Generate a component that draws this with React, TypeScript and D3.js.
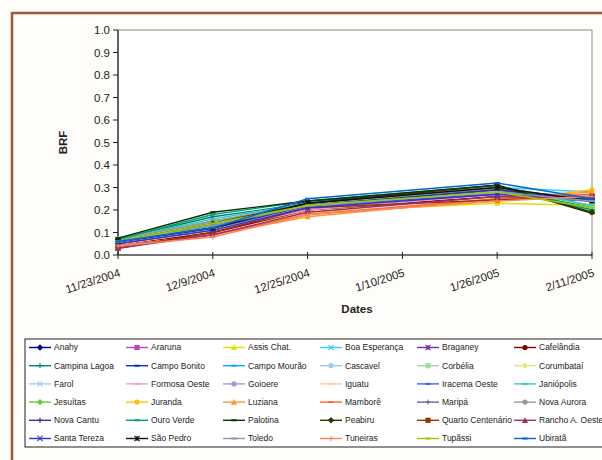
import React from "react";
import * as d3 from "d3";

// ---- data ----
const dates = ["2004-11-23", "2004-12-09", "2004-12-25", "2005-01-26", "2005-02-11"];
const tickLabels = ["11/23/2004", "12/9/2004", "12/25/2004", "1/10/2005", "1/26/2005", "2/11/2005"];
const yTicks = [0, 0.1, 0.2, 0.3, 0.4, 0.5, 0.6, 0.7, 0.8, 0.9, 1.0];

const seriesNames = [
  "Anahy", "Araruna", "Assis Chat.", "Boa Esperança", "Braganey", "Cafelândia",
  "Campina Lagoa", "Campo Bonito", "Campo Mourão", "Cascavel", "Corbélia", "Corumbataí",
  "Farol", "Formosa Oeste", "Goioere", "Iguatu", "Iracema Oeste", "Janiópolis",
  "Jesuítas", "Juranda", "Luziana", "Mamborê", "Maripá", "Nova Aurora",
  "Nova Cantu", "Ouro Verde", "Palotina", "Peabiru", "Quarto Centenário", "Rancho A. Oeste",
  "Santa Tereza", "São Pedro", "Toledo", "Tuneiras", "Tupãssi", "Ubiratã",
];

// BRF per date, one value per series (same order as seriesNames)
const brf_2004_11_23 = [
  0.06, 0.04, 0.05, 0.07, 0.05, 0.04,
  0.07, 0.06, 0.07, 0.06, 0.07, 0.06,
  0.06, 0.05, 0.05, 0.04, 0.06, 0.07,
  0.07, 0.04, 0.04, 0.04, 0.06, 0.07,
  0.06, 0.07, 0.075, 0.06, 0.03, 0.03,
  0.05, 0.06, 0.06, 0.04, 0.06, 0.06,
];
const brf_2004_12_09 = [
  0.12, 0.10, 0.11, 0.14, 0.12, 0.10,
  0.17, 0.12, 0.15, 0.13, 0.14, 0.12,
  0.13, 0.11, 0.12, 0.09, 0.12, 0.16,
  0.15, 0.09, 0.09, 0.09, 0.13, 0.15,
  0.12, 0.18, 0.19, 0.14, 0.10, 0.09,
  0.11, 0.12, 0.13, 0.08, 0.14, 0.12,
];
const brf_2004_12_25 = [
  0.22, 0.20, 0.19, 0.23, 0.21, 0.20,
  0.23, 0.24, 0.22, 0.22, 0.23, 0.21,
  0.22, 0.20, 0.21, 0.18, 0.22, 0.23,
  0.22, 0.18, 0.17, 0.18, 0.22, 0.23,
  0.22, 0.24, 0.24, 0.23, 0.21, 0.19,
  0.21, 0.23, 0.22, 0.18, 0.22, 0.25,
];
const brf_2005_01_26 = [
  0.29, 0.28, 0.23, 0.30, 0.27, 0.26,
  0.30, 0.29, 0.28, 0.28, 0.29, 0.27,
  0.28, 0.27, 0.28, 0.25, 0.27, 0.30,
  0.29, 0.24, 0.25, 0.25, 0.29, 0.30,
  0.29, 0.31, 0.31, 0.31, 0.245, 0.26,
  0.27, 0.30, 0.28, 0.24, 0.28, 0.32,
];
const brf_2005_02_11 = [
  0.25, 0.24, 0.22, 0.28, 0.25, 0.24,
  0.21, 0.25, 0.26, 0.25, 0.22, 0.24,
  0.26, 0.25, 0.24, 0.27, 0.24, 0.22,
  0.20, 0.29, 0.28, 0.27, 0.25, 0.24,
  0.24, 0.20, 0.185, 0.19, 0.26, 0.25,
  0.25, 0.24, 0.24, 0.26, 0.21, 0.25,
];
const brfByDate = [brf_2004_11_23, brf_2004_12_09, brf_2004_12_25, brf_2005_01_26, brf_2005_02_11];

// ---- styles ----
const seriesColors = [
  "#000080", "#c040c0", "#e0e000", "#33ccff", "#7030a0", "#800000",
  "#008080", "#0033cc", "#00b0f0", "#99ccee", "#a0dca0", "#e6e680",
  "#99ccff", "#ff99cc", "#b090e0", "#ffcc99", "#3366ff", "#33cccc",
  "#66cc33", "#ffc000", "#ff9933", "#ff6633", "#6666aa", "#999999",
  "#333399", "#00a070", "#003300", "#333300", "#993300", "#993366",
  "#3333cc", "#111111", "#8899aa", "#ff8060", "#99cc00", "#0066cc",
];
const markerTypes = [
  "diamond", "square", "triangle", "x", "star", "circle",
  "plus", "dash", "dash", "circle", "square", "diamond",
  "x", "dash", "circle", "dash", "dash", "dash",
  "diamond", "circle", "triangle", "dash", "plus", "circle",
  "plus", "dash", "dash", "diamond", "square", "triangle",
  "x", "star", "dash", "plus", "dash", "dash",
];

const W = 602, H = 460;
const plot = { left: 118, right: 592, top: 30, bottom: 255 };

function Marker({ type, x, y, color }: { type: string; x: number; y: number; color: string }) {
  const r = 2.6;
  switch (type) {
    case "diamond":
      return <path d={`M${x},${y - r - 0.6}L${x + r + 0.6},${y}L${x},${y + r + 0.6}L${x - r - 0.6},${y}Z`} fill={color} />;
    case "square":
      return <rect x={x - r} y={y - r} width={2 * r} height={2 * r} fill={color} />;
    case "triangle":
      return <path d={`M${x},${y - r - 0.5}L${x + r + 0.5},${y + r}L${x - r - 0.5},${y + r}Z`} fill={color} />;
    case "circle":
      return <circle cx={x} cy={y} r={r} fill={color} />;
    case "x":
      return <path d={`M${x - r},${y - r}L${x + r},${y + r}M${x - r},${y + r}L${x + r},${y - r}`} stroke={color} strokeWidth={1.1} />;
    case "star":
      return <path d={`M${x - r},${y - r}L${x + r},${y + r}M${x - r},${y + r}L${x + r},${y - r}M${x},${y - r}L${x},${y + r}`} stroke={color} strokeWidth={1.1} />;
    case "plus":
      return <path d={`M${x - r},${y}L${x + r},${y}M${x},${y - r}L${x},${y + r}`} stroke={color} strokeWidth={1.1} />;
    default:
      return <path d={`M${x - r},${y}L${x + r},${y}`} stroke={color} strokeWidth={2} />;
  }
}

export default function App() {
  const parse = d3.timeParse("%Y-%m-%d");
  const xDates = dates.map((d) => parse(d) as Date);
  const tickDates = tickLabels.map((t) => d3.timeParse("%m/%d/%Y")(t) as Date);
  const x = d3.scaleTime().domain([tickDates[0], tickDates[tickDates.length - 1]]).range([plot.left, plot.right]);
  const y = d3.scaleLinear().domain([0, 1]).range([plot.bottom, plot.top]);
  const line = d3.line<[Date, number]>().x((d) => x(d[0])).y((d) => y(d[1]));

  const series = seriesNames.map((name, i) => ({
    name,
    color: seriesColors[i],
    marker: markerTypes[i],
    points: xDates.map((d, j) => [d, brfByDate[j][i]] as [Date, number]),
  }));

  const font = "Arial, 'Liberation Sans', sans-serif";
  const legend = { left: 25, top: 339, colW: 97, rowH: 18.2 };

  return (
    <svg width={W} height={H} style={{ position: "absolute", left: 0, top: 0, background: "#fffdfa" }} fontFamily={font}>
      {/* outer chart border */}
      <rect x={12} y={13} width={640} height={500} fill="#fffdfa" stroke="#e8a080" strokeWidth={3} />
      <rect x={12} y={13} width={640} height={500} fill="none" stroke="#3a1a10" strokeWidth={1} />
      {/* plot area */}
      <rect x={plot.left} y={plot.top} width={plot.right - plot.left} height={plot.bottom - plot.top} fill="#ffffff" stroke="#8a8a8a" strokeWidth={1} />
      {/* y axis */}
      <line x1={plot.left} x2={plot.left} y1={plot.top} y2={plot.bottom} stroke="#222" strokeWidth={1.2} />
      {yTicks.map((t) => (
        <g key={t}>
          <line x1={plot.left - 5} x2={plot.left} y1={y(t)} y2={y(t)} stroke="#222" />
          <text x={plot.left - 8} y={y(t)} dy="0.35em" textAnchor="end" fontSize={11.5} fill="#222">{t.toFixed(1)}</text>
        </g>
      ))}
      <text transform={`translate(67,${(plot.top + plot.bottom) / 2}) rotate(-90)`} textAnchor="middle" fontSize={11.5} fontWeight="bold" fill="#222">BRF</text>
      {/* x axis */}
      <line x1={plot.left} x2={plot.right} y1={plot.bottom} y2={plot.bottom} stroke="#222" strokeWidth={1.2} />
      {tickDates.map((d, i) => (
        <g key={i}>
          <line x1={x(d)} x2={x(d)} y1={plot.bottom - 3} y2={plot.bottom + 4} stroke="#222" />
          <text transform={`translate(${x(d) + 3},${plot.bottom + 21}) rotate(-18)`} textAnchor="end" fontSize={11.5} fill="#222">{tickLabels[i]}</text>
        </g>
      ))}
      <text x={357} y={313} textAnchor="middle" fontSize={11.5} fontWeight="bold" fill="#222">Dates</text>
      {/* series */}
      {series.map((s) => (
        <g key={s.name}>
          <path d={line(s.points) || ""} fill="none" stroke={s.color} strokeWidth={1.4} />
          {s.points.map((p, j) => (
            <Marker key={j} type={s.marker} x={x(p[0])} y={y(p[1])} color={s.color} />
          ))}
        </g>
      ))}
      {/* legend */}
      <rect x={legend.left} y={legend.top} width={620} height={108} fill="#ffffff" stroke="#222" strokeWidth={1} />
      {series.map((s, i) => {
        const col = i % 6, row = Math.floor(i / 6);
        const lx = legend.left + 4 + col * legend.colW;
        const ly = legend.top + 8.5 + row * legend.rowH;
        return (
          <g key={s.name}>
            <line x1={lx} x2={lx + 22} y1={ly} y2={ly} stroke={s.color} strokeWidth={1.4} />
            <Marker type={s.marker} x={lx + 11} y={ly} color={s.color} />
            <text x={lx + 25} y={ly} dy="0.35em" fontSize={8.5} fill="#222">{s.name}</text>
          </g>
        );
      })}
    </svg>
  );
}
